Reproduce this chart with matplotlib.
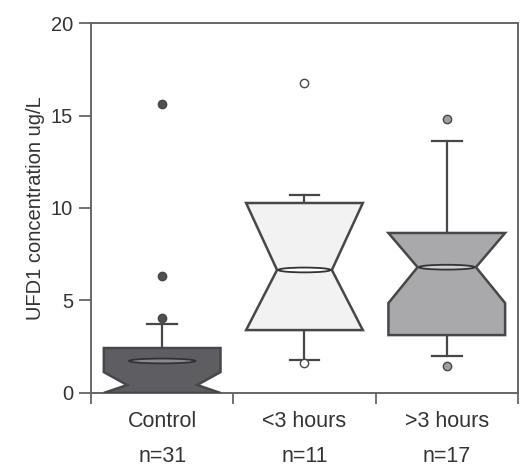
import numpy as np
import matplotlib.pyplot as plt
from matplotlib.patches import Polygon, Ellipse

plt.rcParams['font.family'] = ['Liberation Sans', 'DejaVu Sans']

groups = ["Control", "<3 hours", ">3 hours"]
counts = [31, 11, 17]
q1 = [0.0, 3.4, 3.13]
q3 = [2.43, 10.27, 8.65]
medians = [1.73, 6.65, 6.8]
notch_lo = [0.0, 3.4, 4.86]
notch_hi = [1.13, 10.27, 8.65]
waist = [0.43, 6.65, 6.8]
whisker_lo = [0.0, 1.78, 2.0]
whisker_hi = [3.73, 10.7, 13.6]
fliers = [[4.05, 6.32, 15.6], [1.62, 16.75], [1.46, 14.8]]

box_colors = ["#5e5e62", "#f2f2f2", "#a9a9ac"]
lens_colors = ["#8a8a8e", "#ffffff", "#d0d0d2"]
flier_faces = ["#505053", "#ffffff", "#a0a0a3"]
edge = "#47474a"
txt = "#333333"

fig = plt.figure(figsize=(5.2, 4.66), dpi=100)
ax = fig.add_axes([0.175, 0.1567, 0.821, 0.7939])

box_w = 0.82
cap_w = 0.21
waist_frac = [0.6, 0.47, 0.5]

for i, name in enumerate(groups):
    x = i + 1
    # whiskers and caps
    ax.plot([x, x], [q3[i], whisker_hi[i]], color=edge, lw=1.6, zorder=2)
    ax.plot([x, x], [q1[i], whisker_lo[i]], color=edge, lw=1.6, zorder=2)
    ax.plot([x - cap_w / 2, x + cap_w / 2], [whisker_hi[i]] * 2, color=edge, lw=1.6, zorder=2)
    if whisker_lo[i] > 0:
        ax.plot([x - cap_w / 2, x + cap_w / 2], [whisker_lo[i]] * 2, color=edge, lw=1.6, zorder=2)

    # notched box outline
    hw = box_w / 2
    nw = hw * waist_frac[i]
    ys = [q3[i], notch_hi[i], waist[i], notch_lo[i], q1[i]]
    ws = [hw, hw, nw, hw, hw]
    pts = [(x - w, y) for w, y in zip(ws, ys)] + [(x + w, y) for w, y in zip(ws[::-1], ys[::-1])]
    ax.add_patch(Polygon(pts, closed=True, facecolor=box_colors[i], edgecolor=edge, lw=1.8, zorder=3))

    # median lens
    ax.add_patch(Ellipse((x, medians[i]), nw * 1.9, 0.26, facecolor=lens_colors[i],
                         edgecolor="#333335", lw=1.3, zorder=4))

    # outliers
    ax.plot([x] * len(fliers[i]), fliers[i], 'o', ms=6, mfc=flier_faces[i], mec=edge, mew=1.0,
            zorder=5, clip_on=False)

ax.set_xlim(0.5, 3.5)
ax.set_ylim(0, 20)
ax.set_yticks([0, 5, 10, 15, 20])
ax.set_xticks([0.5, 1.5, 2.5, 3.5])
ax.set_xticklabels([])
ax.set_xticks([1, 2, 3], minor=True)
ax.set_xticklabels([f"{g}\nn={n}" for g, n in zip(groups, counts)], minor=True,
                   fontsize=15.5, color=txt, linespacing=1.9)
ax.tick_params(axis='x', which='major', direction='out', length=8, width=1.3, color="#666666")
ax.tick_params(axis='x', which='minor', length=0, pad=13)
ax.tick_params(axis='y', direction='out', length=9, width=1.3, color="#666666",
               labelsize=14.5, labelcolor=txt, pad=4)
for s in ax.spines.values():
    s.set_color("#666666")
    s.set_linewidth(1.4)

ax.set_ylabel("UFD1 concentration ug/L", fontsize=14.5, color=txt, labelpad=4)

fig.savefig("out.png", dpi=100)
